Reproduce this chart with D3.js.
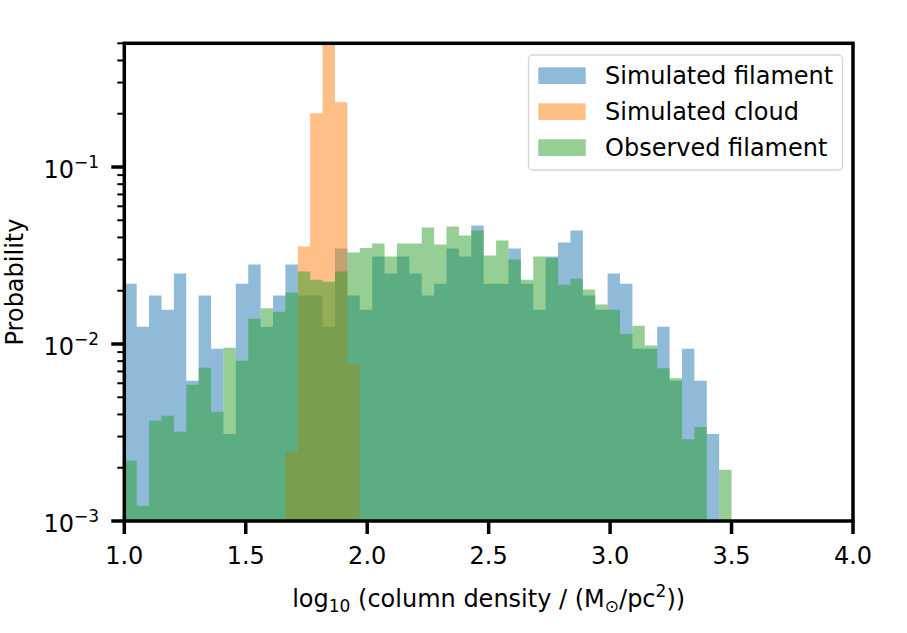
<!DOCTYPE html>
<html>
<head>
<meta charset="utf-8">
<script src="https://cdn.jsdelivr.net/npm/d3@7"></script>
<style>
  body { margin: 0; background: #fff; }
  text { font-family: "DejaVu Sans", sans-serif; fill: #000; }
</style>
</head>
<body>
<svg id="chart" width="907" height="633"></svg>
<script>
// histogram bins: 49 equal bins between 1.0 and 3.5
var binLo = 1.0, binHi = 3.5, binCount = 49;

var seriesNames = ["Simulated filament", "Simulated cloud", "Observed filament"];
var seriesColors = ["#1f77b4", "#ff7f0e", "#2ca02c"];

var simFilament = [
    0.0219, 0.0125, 0.0188, 0.0156, 0.0250, 0.0062, 0.0188, 0.0094, 0.0031, 0.0219,
    0.0281, 0.0125, 0.0188, 0.0281, 0.0188, 0.0188, 0.0125, 0.0346, 0.0188, 0.0156,
    0.0312, 0.0250, 0.0312, 0.0250, 0.0188, 0.0219, 0.0346, 0.0312, 0.0467, 0.0219,
    0.0219, 0.0346, 0.0219, 0.0156, 0.0312, 0.0374, 0.0438, 0.0188, 0.0156, 0.0250,
    0.0219, 0.0094, 0.0094, 0.0125, 0.0062, 0.0094, 0.0062, 0.0031, 0
];
var simCloud = [
    0, 0, 0, 0, 0, 0, 0, 0, 0, 0,
    0, 0, 0, 0.00246, 0.0356, 0.201, 0.52, 0.232, 0.00774, 0,
    0, 0, 0, 0, 0, 0, 0, 0, 0, 0,
    0, 0, 0, 0, 0, 0, 0, 0, 0, 0,
    0, 0, 0, 0, 0, 0, 0, 0, 0
];
var obsFilament = [
    0.00219, 0.00122, 0.00368, 0.00393, 0.00319, 0.00589, 0.00734, 0.00414, 0.00953, 0.00804,
    0.0139, 0.0159, 0.0152, 0.0195, 0.0257, 0.0231, 0.0225, 0.0257, 0.0329, 0.0349,
    0.0370, 0.0312, 0.0370, 0.0370, 0.0455, 0.0365, 0.0461, 0.0410, 0.0438, 0.0316,
    0.0384, 0.0300, 0.0231, 0.0312, 0.0306, 0.0216, 0.0234, 0.0203, 0.0167, 0.0156,
    0.0114, 0.0127, 0.0098, 0.0073, 0.0064, 0.0029, 0.0034, 0, 0.00195
];

var xTicks = [1.0, 1.5, 2.0, 2.5, 3.0, 3.5, 4.0];
var yMajorTicks = [1e-3, 1e-2, 1e-1];
var yTickExponents = ["−3", "−2", "−1"];
var yMinorTicks = [2e-3, 3e-3, 4e-3, 5e-3, 6e-3, 7e-3, 8e-3, 9e-3,
                   2e-2, 3e-2, 4e-2, 5e-2, 6e-2, 7e-2, 8e-2, 9e-2,
                   0.2, 0.3, 0.4, 0.5];

(function() {
    var svg = d3.select("#chart");
    var plotL = 124.3, plotR = 853, plotT = 43.3, plotB = 521;

    var x = d3.scaleLinear().domain([1.0, 4.0]).range([plotL, plotR]);
    var y = d3.scaleLog().domain([1e-3, 0.5]).range([plotB, plotT]);

    var edges = d3.range(binCount + 1).map(function(i) {
        return binLo + i * (binHi - binLo) / binCount;
    });

    svg.append("clipPath").attr("id", "plotclip")
        .append("rect")
        .attr("x", plotL).attr("y", plotT)
        .attr("width", plotR - plotL).attr("height", plotB - plotT);

    // one step-shaped area per series, so the translucent bars have no seams
    var area = d3.area()
        .x(function(d) { return x(d.x); })
        .y0(y(1e-3))
        .y1(function(d) { return d.v > 0 ? y(d.v) : y(1e-3); })
        .curve(d3.curveStepAfter);

    var plot = svg.append("g").attr("clip-path", "url(#plotclip)");
    [simFilament, simCloud, obsFilament].forEach(function(vals, s) {
        var pts = vals.map(function(v, i) { return {x: edges[i], v: v}; });
        pts.push({x: edges[binCount], v: vals[binCount - 1]});
        plot.append("path")
            .attr("d", area(pts))
            .attr("fill", seriesColors[s])
            .attr("fill-opacity", 0.5);
    });

    // x axis
    var xAxis = svg.append("g");
    xTicks.forEach(function(t) {
        xAxis.append("line")
            .attr("x1", x(t)).attr("x2", x(t))
            .attr("y1", plotB).attr("y2", plotB + 13)
            .attr("stroke", "#000").attr("stroke-width", 3.5);
        xAxis.append("text")
            .attr("x", x(t)).attr("y", 564)
            .attr("text-anchor", "middle")
            .attr("font-size", 24)
            .text(d3.format(".1f")(t));
    });

    // y axis, log ticks
    var yAxis = svg.append("g");
    yMinorTicks.forEach(function(t) {
        yAxis.append("line")
            .attr("x1", plotL - 7).attr("x2", plotL)
            .attr("y1", y(t)).attr("y2", y(t))
            .attr("stroke", "#000").attr("stroke-width", 2);
    });
    yMajorTicks.forEach(function(t, i) {
        yAxis.append("line")
            .attr("x1", plotL - 13).attr("x2", plotL)
            .attr("y1", y(t)).attr("y2", y(t))
            .attr("stroke", "#000").attr("stroke-width", 3.5);
        var lab = yAxis.append("text")
            .attr("x", 99).attr("y", y(t) + 10.5)
            .attr("text-anchor", "end")
            .attr("font-size", 24);
        lab.append("tspan").text("10");
        lab.append("tspan").attr("font-size", 17).attr("dy", -9.5).text(yTickExponents[i]);
    });

    // frame
    svg.append("rect")
        .attr("x", plotL).attr("y", plotT)
        .attr("width", plotR - plotL).attr("height", plotB - plotT)
        .attr("fill", "none").attr("stroke", "#000").attr("stroke-width", 3.5);

    // axis labels
    svg.append("text")
        .attr("transform", "translate(23,282) rotate(-90)")
        .attr("text-anchor", "middle")
        .attr("font-size", 24)
        .text("Probability");

    var xl = svg.append("text")
        .attr("x", (plotL + plotR) / 2).attr("y", 607)
        .attr("text-anchor", "middle")
        .attr("font-size", 24);
    xl.append("tspan").text("log");
    xl.append("tspan").attr("font-size", 17).attr("dy", 5).text("10");
    xl.append("tspan").attr("dy", -5).text(" (column density / (M");
    xl.append("tspan").attr("font-size", 17).attr("dy", 5).text("⊙");
    xl.append("tspan").attr("dy", -5).text("/pc");
    xl.append("tspan").attr("font-size", 17).attr("dy", -10).text("2");
    xl.append("tspan").attr("dy", 10).text("))");

    // legend
    var legend = svg.append("g");
    legend.append("rect")
        .attr("x", 528.5).attr("y", 55)
        .attr("width", 314).attr("height", 115)
        .attr("rx", 4).attr("ry", 4)
        .attr("fill", "#fff").attr("fill-opacity", 0.8)
        .attr("stroke", "#d6d6d6").attr("stroke-width", 1.3);
    seriesNames.forEach(function(name, i) {
        legend.append("rect")
            .attr("x", 538.3).attr("y", 67.3 + i * 36)
            .attr("width", 47.4).attr("height", 16.7)
            .attr("fill", seriesColors[i]).attr("fill-opacity", 0.5);
        legend.append("text")
            .attr("x", 605).attr("y", 84 + i * 36)
            .attr("font-size", 24)
            .text(name);
    });
})();
</script>
</body>
</html>
